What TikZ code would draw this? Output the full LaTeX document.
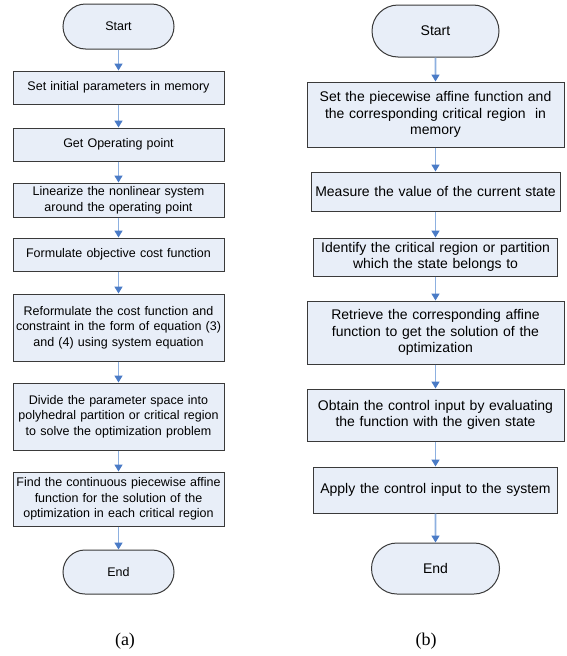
\documentclass[tikz,border=0pt]{standalone}
\usepackage{fontspec}
\setmainfont{Liberation Serif}
\setsansfont{Liberation Sans}
\usetikzlibrary{arrows.meta,shapes.misc}
\definecolor{boxfill}{HTML}{E8EEF8}
\definecolor{linkline}{HTML}{8DB0E0}
\definecolor{linkhead}{HTML}{4A7BC6}
\definecolor{boxedge}{HTML}{3A3A3A}

\begin{document}
\begin{tikzpicture}[x=1pt,y=-1pt,
    lefttext/.style={font=\sffamily\fontsize{12.5}{15.7}\selectfont},
    righttext/.style={font=\sffamily\fontsize{14}{16.7}\selectfont},
    stepbox/.style={draw=boxedge, line width=1pt, fill=boxfill, align=center, inner sep=0pt},
    term/.style={rounded rectangle, draw=boxedge, line width=1pt, fill=boxfill, inner sep=0pt},
    caption/.style={font=\rmfamily\fontsize{18}{20}\selectfont},
    link/.style={draw=linkline, line width=1.6pt, -{Triangle[length=7pt,width=8pt,color=linkhead]}}]

    \useasboundingbox (0,0) rectangle (567,656);

    % (a) building the explicit solution
    \begin{scope}[every node/.append style={lefttext}]
    \node[term, minimum width=111pt, minimum height=45pt] (sa) at (118.5,26.5) {Start};
    \node[stepbox, minimum width=211pt, minimum height=33pt, text width=207pt] (a1) at (118.5,87.5) {Set initial parameters in memory};
    \node[stepbox, minimum width=211pt, minimum height=33pt, text width=207pt] (a2) at (118.5,144.5) {Get Operating point};
    \node[stepbox, minimum width=211pt, minimum height=34pt, text width=207pt] (a3) at (118.5,200) {Linearize the nonlinear system\\around the operating point};
    \node[stepbox, minimum width=211pt, minimum height=33pt, text width=207pt] (a4) at (118.5,254.5) {Formulate objective cost function};
    \node[stepbox, minimum width=211pt, minimum height=67pt, text width=207pt] (a5) at (118.5,327.5) {Reformulate the cost function and\\constraint in the form of equation (3)\\and (4) using system equation};
    \node[stepbox, minimum width=211pt, minimum height=67pt, text width=207pt] (a6) at (118.5,416.5) {Divide the parameter space into\\polyhedral partition or critical region\\to solve the optimization problem};
    \node[stepbox, minimum width=211pt, minimum height=54pt, text width=207pt] (a7) at (118.5,499) {Find the continuous piecewise affine\\function for the solution of the\\optimization in each critical region};
    \node[term, minimum width=111pt, minimum height=44pt] (ea) at (118.5,572) {End};
    \end{scope}
    \node[caption] (la) at (125,641) {(a)};

    \draw[link] (sa) -- (a1);
    \draw[link] (a1) -- (a2);
    \draw[link] (a2) -- (a3);
    \draw[link] (a3) -- (a4);
    \draw[link] (a4) -- (a5);
    \draw[link] (a5) -- (a6);
    \draw[link] (a6) -- (a7);
    \draw[link] (a7) -- (ea);

    % (b) online evaluation
    \begin{scope}[every node/.append style={righttext}]
    \node[term, minimum width=127pt, minimum height=52pt] (sb) at (435.5,31) {Start};
    \node[stepbox, minimum width=257pt, minimum height=65pt, text width=253pt] (b1) at (435.5,114.5) {Set the piecewise affine function and\\the corresponding critical region~ in\\memory};
    \node[stepbox, minimum width=249pt, minimum height=39pt, text width=245pt] (b2) at (435.5,191.5) {Measure the value of the current state};
    \node[stepbox, minimum width=244pt, minimum height=38pt, text width=240pt] (b3) at (435.5,257) {Identify the critical region or partition\\which the state belongs to};
    \node[stepbox, minimum width=257pt, minimum height=63pt, text width=253pt] (b4) at (435.5,332.5) {Retrieve the corresponding affine\\function to get the solution of the\\optimization};
    \node[stepbox, minimum width=257pt, minimum height=52pt, text width=253pt] (b5) at (435.5,415) {Obtain the control input by evaluating\\the function with the given state};
    \node[stepbox, minimum width=244pt, minimum height=46pt, text width=240pt] (b6) at (435.5,490) {Apply the control input to the system};
    \node[term, minimum width=128pt, minimum height=51pt] (eb) at (435.5,568.5) {End};
    \end{scope}
    \node[caption] (lb) at (426,641) {(b)};

    \draw[link] (sb) -- (b1);
    \draw[link] (b1) -- (b2);
    \draw[link] (b2) -- (b3);
    \draw[link] (b3) -- (b4);
    \draw[link] (b4) -- (b5);
    \draw[link] (b5) -- (b6);
    \draw[link] (b6) -- (eb);

\end{tikzpicture}
\end{document}
